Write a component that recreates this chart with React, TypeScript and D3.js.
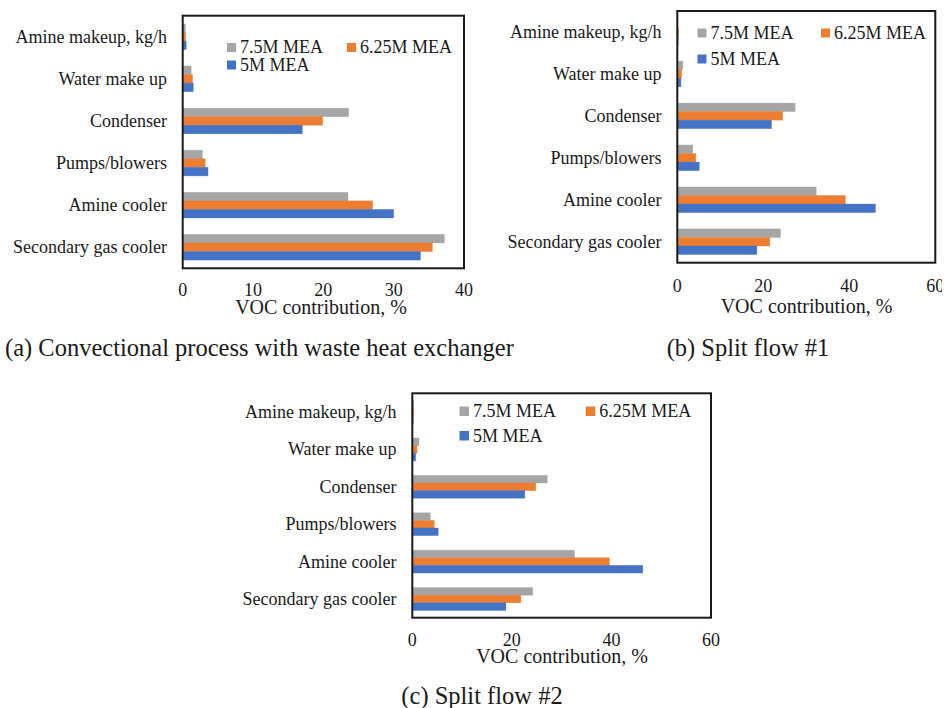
import React from 'react';
import * as d3 from 'd3';

// ---------- DATA ----------
const categories = [
  'Amine makeup, kg/h',
  'Water make up',
  'Condenser',
  'Pumps/blowers',
  'Amine cooler',
  'Secondary gas cooler',
];
const seriesNames = ['7.5M MEA', '6.25M MEA', '5M MEA'];
const seriesColors = ['#A5A5A5', '#ED7D31', '#4472C4'];

// (a) Convectional process with waste heat exchanger
const panelA_75 = [0.4, 1.2, 23.6, 2.8, 23.5, 37.2];
const panelA_625 = [0.4, 1.4, 19.9, 3.2, 27.0, 35.5];
const panelA_5 = [0.5, 1.5, 17.0, 3.6, 30.0, 33.8];

// (b) Split flow #1
const panelB_75 = [0.1, 1.3, 27.4, 3.6, 32.3, 24.0];
const panelB_625 = [0.3, 1.0, 24.5, 4.3, 39.1, 21.5];
const panelB_5 = [0.2, 0.85, 21.9, 5.1, 46.1, 18.5];

// (c) Split flow #2
const panelC_75 = [0.3, 1.35, 27.1, 3.6, 32.6, 24.2];
const panelC_625 = [0.3, 0.95, 24.8, 4.4, 39.6, 21.8];
const panelC_5 = [0.2, 0.7, 22.6, 5.2, 46.3, 18.8];

const ticksA = [0, 10, 20, 30, 40];
const ticksB = [0, 20, 40, 60];
const ticksC = [0, 20, 40, 60];

const axisTitle = 'VOC contribution, %';
const captionA = '(a) Convectional process with waste heat exchanger';
const captionB = '(b) Split flow #1';
const captionC = '(c) Split flow #2';

// ---------- LAYOUT ----------
const FONT = 'Liberation Serif';

type Layout = {
  left: number; top: number; right: number; bottom: number;
  labelX: number; tickY: number; titleX: number; titleY: number;
  captionX: number; captionY: number; captionAnchor: 'start' | 'middle';
  legX1: number; legX2: number; legY1: number; legY2: number; sq: number;
};

const layoutA: Layout = {
  left: 182.7, top: 15.7, right: 464, bottom: 268.3,
  labelX: 167, tickY: 295.5, titleX: 321, titleY: 313.5,
  captionX: 5, captionY: 356, captionAnchor: 'start',
  legX1: 227, legX2: 347, legY1: 43, legY2: 60.5, sq: 9,
};
const layoutB: Layout = {
  left: 677.3, top: 11, right: 935.3, bottom: 262.7,
  labelX: 661.5, tickY: 291.5, titleX: 806.5, titleY: 313,
  captionX: 748, captionY: 356, captionAnchor: 'middle',
  legX1: 697.5, legX2: 821, legY1: 28.5, legY2: 54.5, sq: 9,
};
const layoutC: Layout = {
  left: 412.3, top: 393.3, right: 711, bottom: 617.7,
  labelX: 396.5, tickY: 645.5, titleX: 562, titleY: 663,
  captionX: 482, captionY: 704, captionAnchor: 'middle',
  legX1: 459.5, legX2: 585.7, legY1: 406.5, legY2: 431, sq: 9.5,
};

function Panel({ L, values, ticks, caption }: { L: Layout; values: number[][]; ticks: number[]; caption: string }) {
  const x = d3.scaleLinear().domain([ticks[0], ticks[ticks.length - 1]]).range([L.left, L.right]);
  const y = d3.scaleBand<string>().domain(categories).range([L.top, L.bottom]).paddingInner(0.39).paddingOuter(0.195);
  const ys = d3.scaleBand<string>().domain(seriesNames).range([0, y.bandwidth()]).padding(0);

  return (
    <g>
      {categories.map((c) => (
        <text key={c} x={L.labelX} y={(y(c) as number) + y.bandwidth() / 2 + 6} textAnchor="end"
          fontFamily={FONT} fontSize={18} fill="#1a1a1a">{c}</text>
      ))}
      {seriesNames.map((s, si) =>
        categories.map((c, i) => (
          <rect key={s + c}
            x={x(0)} y={(y(c) as number) + (ys(s) as number)}
            width={Math.max(0, x(values[si][i]) - x(0))} height={ys.bandwidth()}
            fill={seriesColors[si]} stroke={seriesColors[si]} strokeOpacity={0.6} strokeWidth={0.6} />
        ))
      )}
      <rect x={L.left} y={L.top} width={L.right - L.left} height={L.bottom - L.top}
        fill="none" stroke="#1a1a1a" strokeWidth={2} />
      {ticks.map((t) => (
        <text key={t} x={x(t)} y={L.tickY} textAnchor="middle" fontFamily={FONT} fontSize={18} fill="#1a1a1a">{t}</text>
      ))}
      <text x={L.titleX} y={L.titleY} textAnchor="middle" fontFamily={FONT} fontSize={20} fill="#1a1a1a">{axisTitle}</text>
      <text x={L.captionX} y={L.captionY} textAnchor={L.captionAnchor} fontFamily={FONT} fontSize={24.5} fill="#1a1a1a">{caption}</text>
      {seriesNames.map((s, si) => {
        const lx = si === 1 ? L.legX2 : L.legX1;
        const ly = si === 2 ? L.legY2 : L.legY1;
        return (
          <g key={s}>
            <rect x={lx} y={ly} width={L.sq} height={L.sq} fill={seriesColors[si]} />
            <text x={lx + L.sq + 4} y={ly + L.sq + 1} fontFamily={FONT} fontSize={18} fill="#1a1a1a">{s}</text>
          </g>
        );
      })}
    </g>
  );
}

export default function App() {
  return (
    <svg width={946} height={708} viewBox="0 0 946 708"
      style={{ position: 'absolute', left: 0, top: 0, background: '#fff' }}>
      <defs>
        <clipPath id="pageClip"><rect x={0} y={0} width={942} height={708} /></clipPath>
      </defs>
      <rect x={0} y={0} width={946} height={708} fill="#fff" />
      <g clipPath="url(#pageClip)">
        <Panel L={layoutA} values={[panelA_75, panelA_625, panelA_5]} ticks={ticksA} caption={captionA} />
        <Panel L={layoutB} values={[panelB_75, panelB_625, panelB_5]} ticks={ticksB} caption={captionB} />
        <Panel L={layoutC} values={[panelC_75, panelC_625, panelC_5]} ticks={ticksC} caption={captionC} />
      </g>
    </svg>
  );
}
